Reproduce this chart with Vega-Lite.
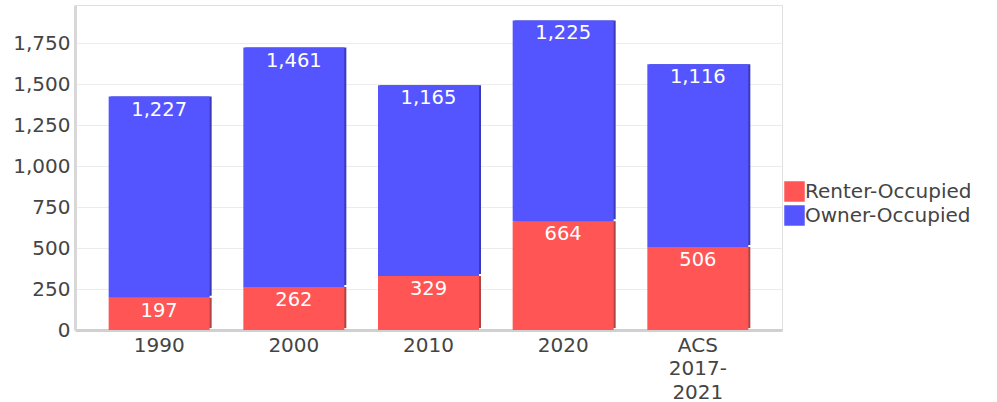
{
  "$schema": "https://vega.github.io/schema/vega-lite/v6.json",
  "width": 707,
  "height": 325,
  "autosize": "none",
  "padding": {"left": 75, "top": 5, "right": 215, "bottom": 72},
  "config": {
    "font": "DejaVu Sans",
    "view": {"stroke": "#e0e0e0", "strokeWidth": 1},
    "axis": {"labelFont": "DejaVu Sans", "labelColor": "#444444", "labelFontSize": 20}
  },
  "data": {
    "values": [
      {"year": "1990", "type": "Renter-Occupied", "value": 197},
      {"year": "1990", "type": "Owner-Occupied", "value": 1227},
      {"year": "2000", "type": "Renter-Occupied", "value": 262},
      {"year": "2000", "type": "Owner-Occupied", "value": 1461},
      {"year": "2010", "type": "Renter-Occupied", "value": 329},
      {"year": "2010", "type": "Owner-Occupied", "value": 1165},
      {"year": "2020", "type": "Renter-Occupied", "value": 664},
      {"year": "2020", "type": "Owner-Occupied", "value": 1225},
      {"year": "ACS 2017-2021", "type": "Renter-Occupied", "value": 506},
      {"year": "ACS 2017-2021", "type": "Owner-Occupied", "value": 1116}
    ]
  },
  "transform": [
    {"stack": "value", "groupby": ["year"], "sort": [{"field": "type", "order": "descending"}], "as": ["v0", "v1"]}
  ],
  "encoding": {
    "x": {
      "field": "year", "type": "nominal", "sort": null,
      "scale": {"paddingInner": 0.25, "paddingOuter": 0.25},
      "axis": {
        "title": null, "labelAngle": 0, "ticks": false, "labelPadding": 5,
        "domainColor": "#d0d0d0", "domainWidth": 3, "labelLineHeight": 23.5,
        "labelExpr": "datum.value == 'ACS 2017-2021' ? ['ACS', '2017-', '2021'] : datum.value"
      }
    }
  },
  "layer": [
    {
      "mark": {"type": "bar", "xOffset": 2, "yOffset": -2},
      "encoding": {
        "y": {
          "field": "v0", "type": "quantitative",
          "scale": {"domain": [0, 1983], "nice": false, "zero": true},
          "axis": {
            "title": null, "values": [0, 250, 500, 750, 1000, 1250, 1500, 1750],
            "ticks": false, "labelPadding": 5, "domainColor": "#d8d8d8", "domainWidth": 3,
            "gridColor": "#ececec", "format": ",d"
          }
        },
        "y2": {"field": "v1"},
        "color": {"condition": {"test": "datum.type == 'Renter-Occupied'", "value": "#b04444"}, "value": "#3a3ab8"}
      }
    },
    {
      "mark": {"type": "bar"},
      "encoding": {
        "y": {"field": "v0", "type": "quantitative"},
        "y2": {"field": "v1"},
        "color": {
          "field": "type", "type": "nominal",
          "scale": {"domain": ["Renter-Occupied", "Owner-Occupied"], "range": ["#ff5555", "#5555ff"]},
          "legend": {
            "title": null, "orient": "none", "legendX": 709, "legendY": 176,
            "symbolType": "square", "symbolSize": 420, "symbolStrokeWidth": 0,
            "labelFontSize": 20, "labelColor": "#444444", "labelFont": "DejaVu Sans",
            "labelLimit": 300, "rowPadding": 3, "labelOffset": 0
          }
        }
      }
    },
    {
      "mark": {"type": "text", "color": "white", "fontSize": 19.5, "baseline": "middle", "dy": 13},
      "encoding": {
        "y": {"field": "v1", "type": "quantitative"},
        "text": {"field": "value", "type": "quantitative", "format": ","}
      }
    }
  ]
}
